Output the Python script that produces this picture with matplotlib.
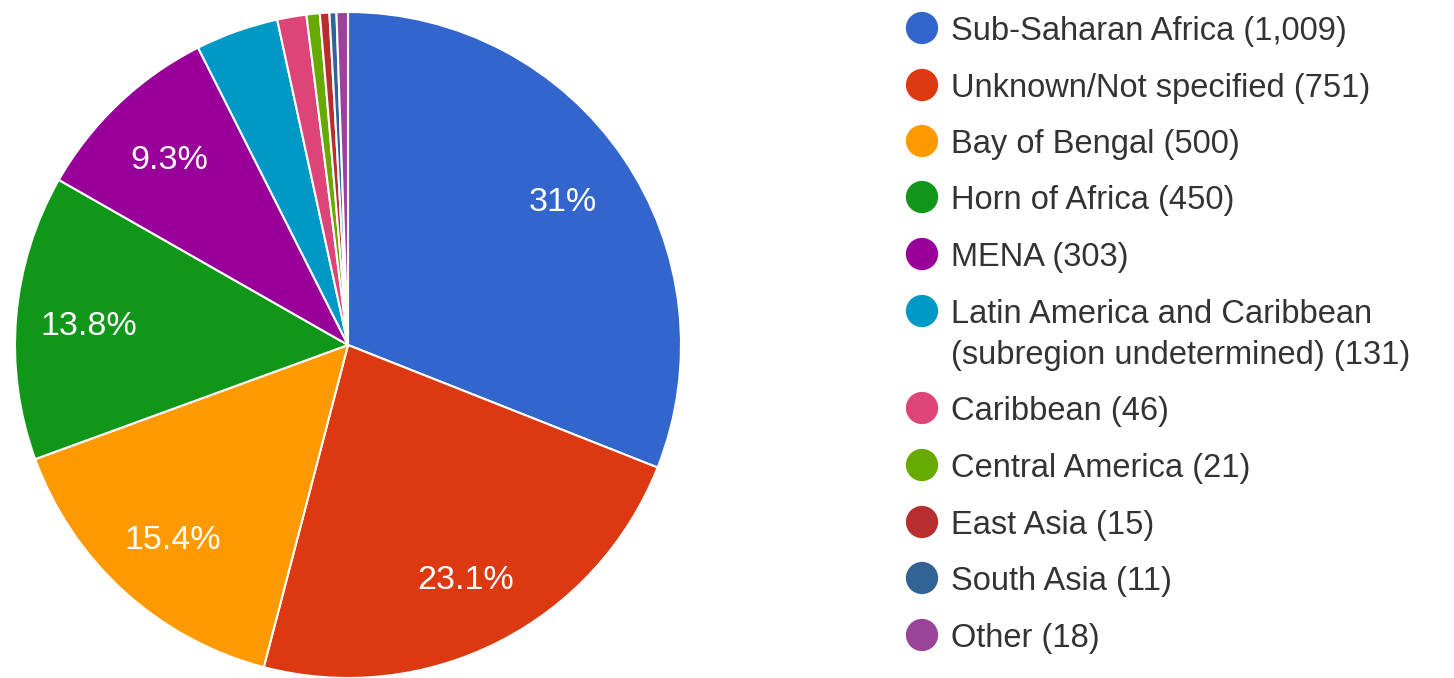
import matplotlib
matplotlib.use("Agg")
import matplotlib.pyplot as plt

categories = ["Sub-Saharan Africa", "Unknown/Not specified", "Bay of Bengal",
              "Horn of Africa", "MENA", "Latin America and Caribbean\n(subregion undetermined)",
              "Caribbean", "Central America", "East Asia", "South Asia", "Other"]
values = [1009, 751, 500, 450, 303, 131, 46, 21, 15, 11, 18]
value_labels = ["1,009", "751", "500", "450", "303", "131", "46", "21", "15", "11", "18"]
colors = ["#3366cc", "#dc3912", "#ff9900", "#109618", "#990099", "#0099c6",
          "#dd4477", "#66aa00", "#b82e2e", "#316395", "#994499"]

W, H = 1454, 678
fig = plt.figure(figsize=(W / 100, H / 100), dpi=100)
ax = fig.add_axes([0, 0, 1, 1])

cx, cy, r = 348, H - 345, 333


def fmt(p):
    if p < 5:
        return ""
    s = "{:.1f}".format(p)
    if s.endswith(".0"):
        s = s[:-2]
    return s + "%"


wedges, texts, autotexts = ax.pie(
    values, colors=colors, startangle=90, counterclock=False,
    center=(cx, cy), radius=r, autopct=fmt, pctdistance=0.78,
    wedgeprops=dict(edgecolor="white", linewidth=1.5),
    textprops=dict(color="white", fontsize=24.5, family="Liberation Sans"),
    frame=True)
for t in autotexts:
    t.set_va("center_baseline")
ax.set_xlim(0, W)
ax.set_ylim(0, H)
ax.set_aspect("auto")
ax.axis("off")

row_y = [28, 85, 141, 197, 254, 311, 408, 465, 522, 578, 635]
line_gap = 41
for cat, vl, col, yy in zip(categories, value_labels, colors, row_y):
    ax.scatter([922], [H - yy], s=540, color=col, edgecolors="none", zorder=3)
    lines = f"{cat} ({vl})".split("\n")
    for i, ln in enumerate(lines):
        ax.text(951, H - yy - i * line_gap, ln, fontsize=23.5, family="Liberation Sans",
                color="#333333", va="center_baseline", ha="left")

fig.savefig("out.png", dpi=100, facecolor="white")
